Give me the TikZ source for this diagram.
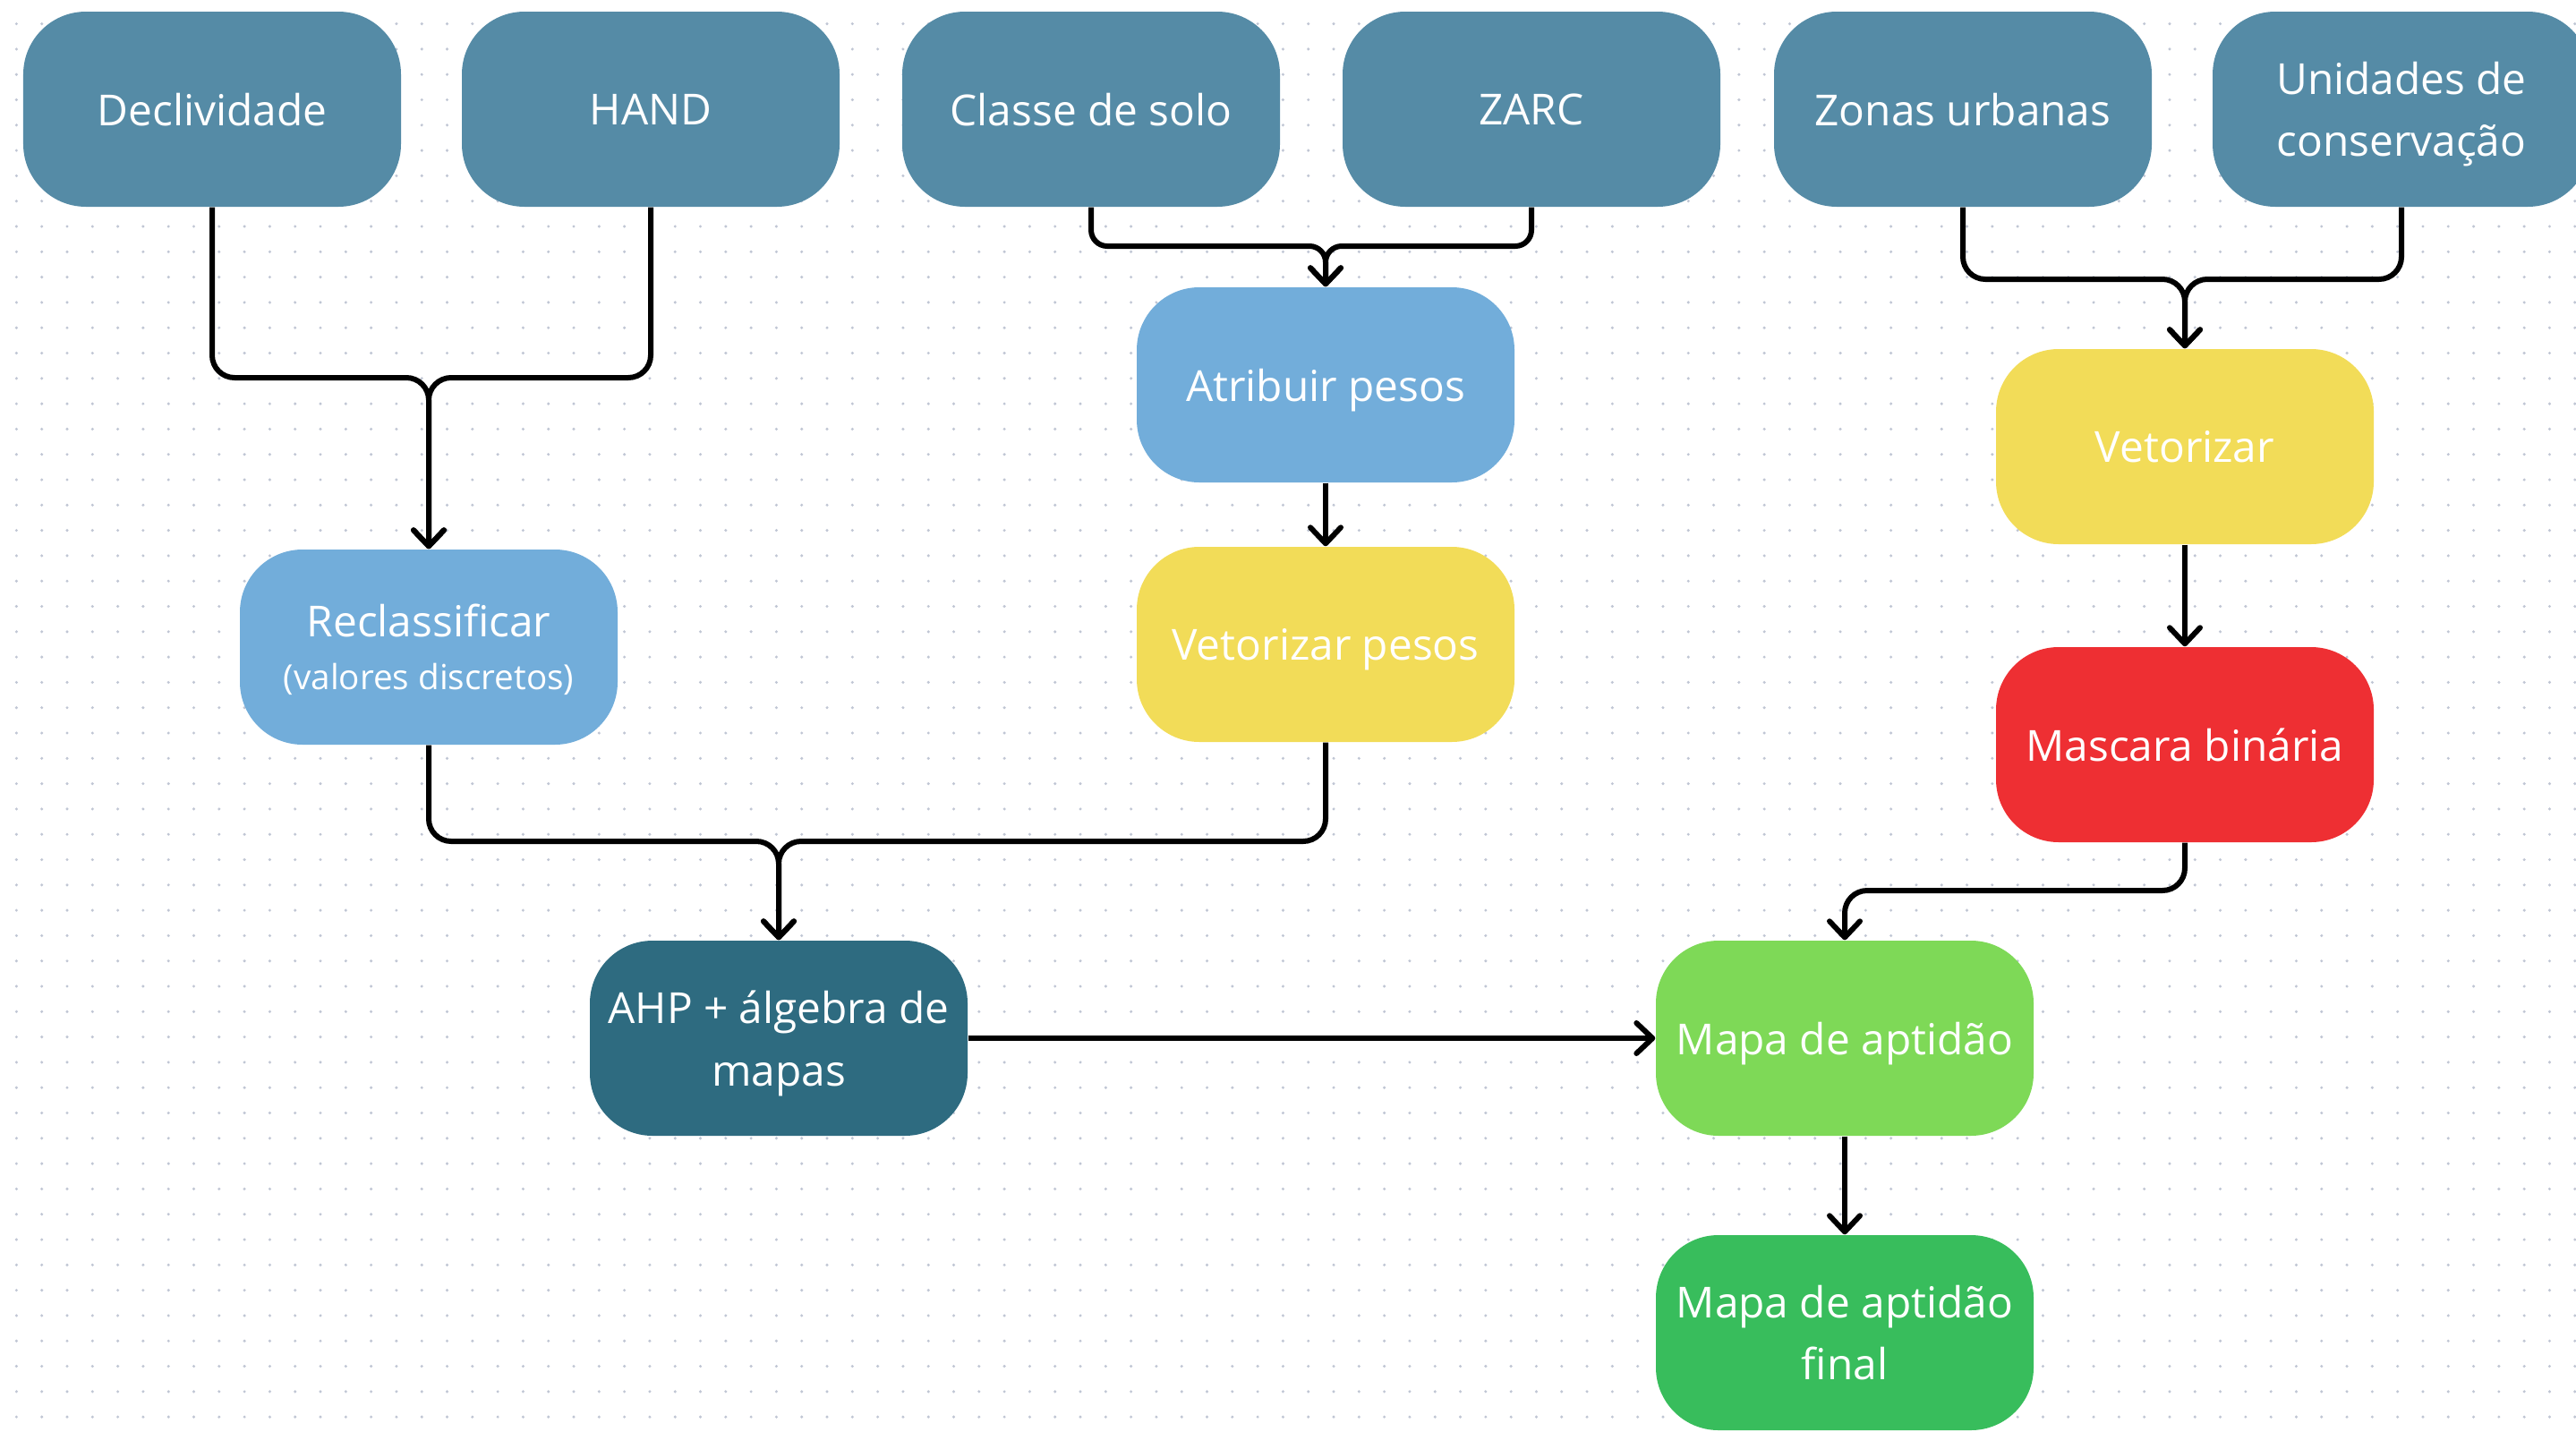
\documentclass[tikz,border=0pt]{standalone}
\usepackage{fontspec}
\setmainfont{Open Sans}
\usetikzlibrary{arrows.meta}
\definecolor{inputblue}{RGB}{85,139,166}
\definecolor{weightblue}{RGB}{114,173,218}
\definecolor{vecyellow}{RGB}{242,220,88}
\definecolor{maskred}{RGB}{238,47,51}
\definecolor{ahpteal}{RGB}{46,107,128}
\definecolor{aptgreen}{RGB}{126,217,87}
\definecolor{finalgreen}{RGB}{56,189,92}
\definecolor{dotgray}{RGB}{192,198,212}

\begin{document}
\begin{tikzpicture}[auto,scale=1.0]
        \tikzstyle{box}=[rectangle,rounded corners=7mm,minimum width=4.22cm,minimum height=2.18cm,align=center,text=white,inner sep=2pt,text depth=0pt,font=\fontsize{13.6}{19.8}\selectfont]
        \tikzstyle{link}=[line width=0.6mm,rounded corners=2.5mm,-{Straight Barb[round,length=1.8mm,width=3.4mm]}]
        \useasboundingbox (0,0) rectangle (28.78,-15.99);
        \foreach \i in {0,...,101}
            \foreach \j in {0,...,55}
                \fill [dotgray] (0.184+0.283*\i,-0.266-0.283*\j) circle (0.17mm);
        % inputs
        \node [box,fill=inputblue] (decl) at (2.37,-1.22) {Declividade};
        \node [box,fill=inputblue] (hand) at (7.27,-1.22) {HAND};
        \node [box,fill=inputblue] (solo) at (12.19,-1.22) {Classe de solo};
        \node [box,fill=inputblue] (zarc) at (17.11,-1.22) {ZARC};
        \node [box,fill=inputblue] (urb) at (21.93,-1.22) {Zonas urbanas};
        \node [box,fill=inputblue] (uc) at (26.83,-1.22) {Unidades de\\conservação};
        % processing
        \node [box,fill=weightblue] (recl) at (4.79,-7.23) {Reclassificar\\[-3pt]{\fontsize{11}{13}\selectfont (valores discretos)}};
        \node [box,fill=weightblue] (pesos) at (14.81,-4.30) {Atribuir pesos};
        \node [box,fill=vecyellow] (vetp) at (14.81,-7.20) {Vetorizar pesos};
        \node [box,fill=vecyellow] (vet) at (24.41,-4.99) {Vetorizar};
        \node [box,fill=maskred] (masc) at (24.41,-8.32) {Mascara binária};
        \node [box,fill=ahpteal] (ahp) at (8.70,-11.60) {AHP + álgebra de\\mapas};
        \node [box,fill=aptgreen] (apt) at (20.61,-11.60) {Mapa de aptidão};
        \node [box,fill=finalgreen] (final) at (20.61,-14.89) {Mapa de aptidão\\final};
        % junctions
        \coordinate (j1) at (4.79,-4.22);
        \coordinate (j2) at (14.81,-2.75);
        \coordinate (j3) at (24.41,-3.12);
        \coordinate (j4) at (8.70,-9.40);
        \coordinate (j5) at (20.61,-9.95);
        \draw [link] (decl.south) |- (j1) -- (recl.north);
        \draw [link] (hand.south) |- (j1) -- (recl.north);
        \draw [link,rounded corners=1.8mm] (solo.south) |- (j2) -- (pesos.north);
        \draw [link,rounded corners=1.8mm] (zarc.south) |- (j2) -- (pesos.north);
        \draw [link] (urb.south) |- (j3) -- (vet.north);
        \draw [link] (uc.south) |- (j3) -- (vet.north);
        \draw [link] (pesos.south) -- (vetp.north);
        \draw [link] (vet.south) -- (masc.north);
        \draw [link] (recl.south) |- (j4) -- (ahp.north);
        \draw [link] (vetp.south) |- (j4) -- (ahp.north);
        \draw [link] (masc.south) |- (j5) -- (apt.north);
        \draw [link] (ahp.east) -- (apt.west);
        \draw [link] (apt.south) -- (final.north);
\end{tikzpicture}
\end{document}
